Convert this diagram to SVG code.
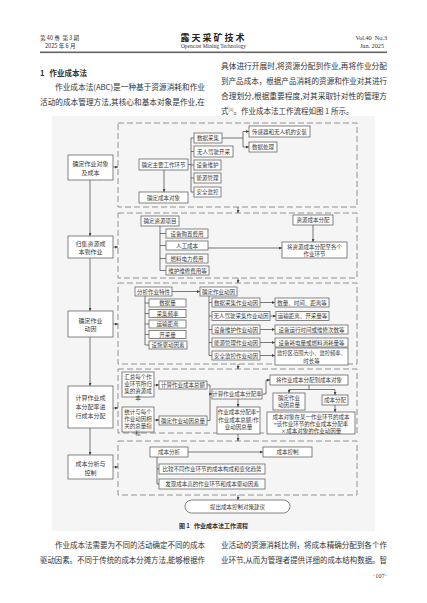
<svg xmlns="http://www.w3.org/2000/svg" width="427" height="603" viewBox="0 0 427 603">
<style>
text{font-family:"Noto Sans CJK SC","Liberation Serif",serif;fill:#333}
.h{font-size:5.6px}
.p{font-size:7.5px}
.f{font-size:5.5px;text-anchor:middle;fill:#3a3a3a}
.g{font-size:6px;text-anchor:middle;fill:#3a3a3a}
.b{fill:#fff;stroke:#666;stroke-width:0.8}
.d{fill:none;stroke:#888;stroke-width:0.9;stroke-dasharray:6 3}
.c path{fill:none;stroke:#444;stroke-width:0.7}
.c .a{marker-end:url(#ar)}
</style>
<defs>
<marker id="ar" viewBox="0 0 6 6" refX="6" refY="3" markerWidth="3" markerHeight="3" markerUnits="userSpaceOnUse" orient="auto">
<path d="M0,0 L6,3 L0,6 z" fill="#444"/>
</marker>
</defs>
<rect width="427" height="603" fill="#fff"/>
<g id="header">
<text x="40" y="39.5" class="h">第 40 卷 &#160;第 3 期</text>
<text x="45" y="47.5" class="h">2025 年 6 月</text>
<text x="213.5" y="40.5" style="font-size:9px;font-weight:bold;text-anchor:middle;letter-spacing:2px;fill:#222">露天采矿技术</text>
<text x="213.5" y="48" style="font-family:'Liberation Serif',serif;font-size:5.5px;text-anchor:middle">Opencast Mining Technology</text>
<text x="387" y="40" style="font-family:'Liberation Serif',serif;font-size:6.2px;text-anchor:end">Vol.40 &#160;No.3</text>
<text x="384" y="47.5" style="font-family:'Liberation Serif',serif;font-size:6.2px;text-anchor:end">Jun. 2025</text>
<rect x="40" y="51.5" width="347" height="1.6" fill="#666"/>
</g>
<g id="body-top">
<text x="40" y="76" class="p" style="font-weight:bold">1 &#160;&#160;作业成本法</text>
<text x="55" y="90" class="p" textLength="150" lengthAdjust="spacingAndGlyphs">作业成本法(ABC)是一种基于资源消耗和作业</text>
<text x="40" y="104.5" class="p" textLength="165" lengthAdjust="spacingAndGlyphs">活动的成本管理方法,其核心和基本对象是作业,在</text>
<text x="221" y="69" class="p" textLength="166" lengthAdjust="spacingAndGlyphs">具体进行开展时,将资源分配到作业,再将作业分配</text>
<text x="221" y="84" class="p" textLength="166" lengthAdjust="spacingAndGlyphs">到产品成本，根据产品消耗的资源和作业对其进行</text>
<text x="221" y="99" class="p" textLength="166" lengthAdjust="spacingAndGlyphs">合理划分,根据重要程度,对其采取针对性的管理方</text>
<text x="221" y="113.5" class="p">式<tspan style="font-size:4px" dy="-3">[3]</tspan><tspan dy="3">。作业成本法工作流程如图 1 所示。</tspan></text>
</g>
<rect id="figure-bg" x="52" y="116" width="323" height="415" fill="#f5f5f5"/>
<g id="frames">
<rect class="d" x="118" y="123" width="239" height="84"/>
<rect class="d" x="118" y="213" width="239" height="65"/>
<rect class="d" x="118" y="283" width="239" height="81"/>
<rect class="d" x="118" y="369" width="239" height="64"/>
<rect class="d" x="118" y="441" width="239" height="54"/>
</g>
<g id="connectors" class="c">
<path class="a" d="M90,180 V236"/>
<path class="a" d="M90,258 V311"/>
<path class="a" d="M90,337 V386"/>
<path class="a" d="M90,428 V455"/>
<path class="a" d="M113,167 H118"/>
<path class="a" d="M113,247 H118"/>
<path class="a" d="M113,324 H118"/>
<path class="a" d="M113,408 H118"/>
<path class="a" d="M113,467 H118"/>
<path class="a" d="M238,207 V213"/>
<path class="a" d="M238,278 V283"/>
<path class="a" d="M238,364 V369"/>
<path class="a" d="M238,433 V441"/>
<path class="a" d="M238,495 V500"/>
<path d="M188,164.5 H191 M191,138 V192 M191,138 H194 M191,151.5 H194 M191,165 H194 M191,178 H194 M191,192 H194"/>
<path d="M222,138 H243 M243,131.5 V147"/>
<path class="a" d="M243,131.5 H249"/>
<path class="a" d="M243,147 H249"/>
<path class="a" d="M164,170 V192"/>
<path d="M160,226 V270.5 M160,233.5 H166 M160,245.5 H166 M160,258.5 H166 M160,270.5 H166"/>
<path class="a" d="M208,248 H282"/>
<path class="a" d="M313,225 V242"/>
<path class="a" d="M172,291.5 H200"/>
<path d="M145,296 V345 M145,303 H149 M145,313.5 H149 M145,324 H149 M145,334.5 H149 M145,345 H149"/>
<path d="M209,296 V355.5 M209,302.5 H212 M209,316 H212 M209,329.5 H212 M209,342.5 H212 M209,355.5 H212"/>
<path class="a" d="M260,302.5 H275"/>
<path class="a" d="M270,316 H276"/>
<path class="a" d="M260,329.5 H275"/>
<path class="a" d="M260,342.5 H275"/>
<path class="a" d="M260,355.5 H275"/>
<path class="a" d="M154,385 H159"/>
<path class="a" d="M154,420 H159"/>
<path d="M207,385 H210 M207,420.5 H210 M210,385 V420.5"/>
<path class="a" d="M210,394 H212"/>
<path class="a" d="M238,399 V407"/>
<path d="M262,394 H266 V380"/>
<path class="a" d="M266,380 H270"/>
<path d="M309,385 V389.5 M289,389.5 H335"/>
<path class="a" d="M289,389.5 V393"/>
<path class="a" d="M335,389.5 V395"/>
<path class="a" d="M335,405 V412"/>
<path class="a" d="M188,452 H263"/>
<path d="M157,457 V484 M157,469 H159 M157,484 H159"/>
</g>
<g id="left-steps">
<g id="s1"><rect class="b" x="68" y="155" width="45" height="25"/><text class="g" x="90.5" y="166">确定作业对象</text><text class="g" x="90.5" y="174.5">及成本</text></g>
<g id="s2"><rect class="b" x="68" y="236" width="45" height="22"/><text class="g" x="90.5" y="245.5">归集资源成</text><text class="g" x="90.5" y="253.5">本到作业</text></g>
<g id="s3"><rect class="b" x="68" y="311" width="45" height="26"/><text class="g" x="90.5" y="322.5">确定作业</text><text class="g" x="90.5" y="331">动因</text></g>
<g id="s4"><rect class="b" x="68" y="386" width="45" height="42"/><text class="g" x="90.5" y="400">计算作业成</text><text class="g" x="90.5" y="409">本分配率进</text><text class="g" x="90.5" y="418">行成本分配</text></g>
<g id="s5"><rect class="b" x="68" y="455" width="45" height="24"/><text class="g" x="90.5" y="466">成本分析与</text><text class="g" x="90.5" y="474.5">控制</text></g>
</g>
<g id="stage1">
<g id="n-sensor"><rect class="b" x="249" y="126" width="61" height="11"/><text class="f" x="279.5" y="133.5">传感器和无人机的安装</text></g>
<g id="n-collect"><rect class="b" x="194" y="133" width="28" height="10"/><text class="f" x="208" y="140">数据采集</text></g>
<g id="n-process"><rect class="b" x="249" y="142" width="28" height="10"/><text class="f" x="263" y="149">数据处理</text></g>
<g id="n-auto"><rect class="b" x="194" y="146" width="39" height="11"/><text class="f" x="213.5" y="153.5">无人驾驶开采</text></g>
<g id="n-main"><rect class="b" x="139" y="159" width="49" height="11"/><text class="f" x="163.5" y="166.5">确定主要工作环节</text></g>
<g id="n-maint"><rect class="b" x="194" y="160" width="27" height="10"/><text class="f" x="207.5" y="167">设备维护</text></g>
<g id="n-energy"><rect class="b" x="194" y="173" width="27" height="10"/><text class="f" x="207.5" y="180">能源管理</text></g>
<g id="n-safety"><rect class="b" x="194" y="187" width="27" height="10"/><text class="f" x="207.5" y="194">安全监控</text></g>
<g id="n-object"><rect class="b" x="139" y="192" width="49" height="11"/><text class="f" x="163.5" y="199.5">确定成本对象</text></g>
</g>
<g id="stage2">
<g id="n-res"><rect class="b" x="141" y="216" width="38" height="10"/><text class="f" x="160" y="223">确定资源项目</text></g>
<g id="n-r1"><rect class="b" x="166" y="229" width="42" height="9"/><text class="f" x="187" y="235.5">设备购置费用</text></g>
<g id="n-r2"><rect class="b" x="166" y="241" width="42" height="9"/><text class="f" x="187" y="247.5">人工成本</text></g>
<g id="n-r3"><rect class="b" x="166" y="254" width="42" height="9"/><text class="f" x="187" y="260.5">燃料电力费用</text></g>
<g id="n-r4"><rect class="b" x="166" y="266" width="43" height="9"/><text class="f" x="187.5" y="272.5">维护维修费用等</text></g>
<g id="n-alloc"><rect class="b" x="293" y="215" width="40" height="10"/><text class="f" x="313" y="222">资源成本分配</text></g>
<g id="n-alloc2"><rect class="b" x="282" y="242" width="65" height="16"/><text class="f" x="314.5" y="248.5">将资源成本分配至各个</text><text class="f" x="314.5" y="255.5">作业环节</text></g>
</g>
<g id="stage3">
<g id="n-feat"><rect class="b" x="135" y="287" width="37" height="9"/><text class="f" x="153.5" y="293.5">分析作业特性</text></g>
<g id="n-drv"><rect class="b" x="200" y="287" width="37" height="9"/><text class="f" x="218.5" y="293.5">确定作业动因</text></g>
<g id="n-f1"><rect class="b" x="149" y="299" width="37" height="8"/><text class="f" x="167.5" y="305">数据量</text></g>
<g id="n-f2"><rect class="b" x="149" y="309.5" width="37" height="8"/><text class="f" x="167.5" y="315.5">采集频率</text></g>
<g id="n-f3"><rect class="b" x="149" y="320" width="37" height="8"/><text class="f" x="167.5" y="326">运输距离</text></g>
<g id="n-f4"><rect class="b" x="149" y="330.5" width="37" height="8"/><text class="f" x="167.5" y="336.5">开采量</text></g>
<g id="n-f5"><rect class="b" x="149" y="341" width="38" height="8"/><text class="f" x="168" y="347">设施驱动因素</text></g>
<g id="n-d1"><rect class="b" x="212" y="298" width="48" height="9"/><text class="f" x="236" y="304.5">数据采集作业动因</text></g>
<g id="n-d2"><rect class="b" x="212" y="311.5" width="58" height="9"/><text class="f" x="241" y="318">无人驾驶采集作业动因</text></g>
<g id="n-d3"><rect class="b" x="212" y="325" width="48" height="9"/><text class="f" x="236" y="331.5">设备维护作业动因</text></g>
<g id="n-d4"><rect class="b" x="212" y="338" width="48" height="9"/><text class="f" x="236" y="344.5">能源管理作业动因</text></g>
<g id="n-d5"><rect class="b" x="212" y="351" width="48" height="9"/><text class="f" x="236" y="357.5">安全监控作业动因</text></g>
<g id="n-o1"><rect class="b" x="275" y="298" width="54" height="9"/><text class="f" x="302" y="304.5">数量、时间、距离等</text></g>
<g id="n-o2"><rect class="b" x="276" y="311.5" width="53" height="9"/><text class="f" x="302.5" y="318">运输距离、开采量等</text></g>
<g id="n-o3"><rect class="b" x="275" y="325" width="73" height="9"/><text class="f" x="311.5" y="331.5">设备运行时间或维修次数等</text></g>
<g id="n-o4"><rect class="b" x="275" y="338" width="73" height="9"/><text class="f" x="311.5" y="344.5">设备耗电量或燃料消耗量等</text></g>
<g id="n-o5"><rect class="b" x="275" y="348" width="73" height="17"/><text class="f" x="311.5" y="355" textLength="69" lengthAdjust="spacingAndGlyphs">监控区范围大小、监控频率、</text><text class="f" x="311.5" y="362.5">时长等</text></g>
</g>
<g id="stage4">
<g id="n-sum"><rect class="b" x="122" y="372" width="32" height="25"/><text class="f" x="138" y="378.5">汇总每个作</text><text class="f" x="138" y="385.5">业环节所归</text><text class="f" x="138" y="392.5">集的资源成</text><text class="f" x="138" y="399.5">本</text></g>
<g id="n-stat"><rect class="b" x="122" y="407" width="32" height="25"/><text class="f" x="138" y="413.5">统计与每个</text><text class="f" x="138" y="420.5">作业动因相</text><text class="f" x="138" y="427.5">关的总量指</text><text class="f" x="138" y="434.5">标</text></g>
<g id="n-total"><rect class="b" x="159" y="381" width="48" height="8"/><text class="f" x="183" y="387">计算作业成本总额</text></g>
<g id="n-dtot"><rect class="b" x="159" y="416" width="48" height="9"/><text class="f" x="183" y="422.5">确定作业动因总量</text></g>
<g id="n-rate"><rect class="b" x="212" y="389" width="50" height="10"/><text class="f" x="237" y="396">计算作业成本分配率</text></g>
<g id="n-formula"><rect class="b" x="217" y="407" width="43" height="27"/><text class="f" x="238.5" y="414">作业成本分配率=</text><text class="f" x="238.5" y="421.5">作业成本总额/作</text><text class="f" x="238.5" y="429">业动因总量</text></g>
<g id="n-toobj"><rect class="b" x="270" y="375" width="78" height="10"/><text class="f" x="309" y="382">将作业成本分配到成本对象</text></g>
<g id="n-dtot2"><rect class="b" x="273" y="393" width="32" height="17"/><text class="f" x="289" y="400">确定作业</text><text class="f" x="289" y="407">动因总量</text></g>
<g id="n-calloc"><rect class="b" x="322" y="395" width="26" height="10"/><text class="f" x="335" y="402">成本分配</text></g>
<g id="n-objcost"><rect class="b" x="267" y="412" width="88" height="22"/><text class="f" x="311" y="418.5">成本对象在某一作业环节的成本</text><text class="f" x="311" y="425.5">=该作业环节的作业成本分配率</text><text class="f" x="311" y="432.5">×成本对象的作业动因量</text></g>
</g>
<g id="stage5">
<g id="n-ana"><rect class="b" x="150" y="447" width="38" height="10"/><text class="f" x="169" y="454">成本分析</text></g>
<g id="n-ctl"><rect class="b" x="263" y="447" width="49" height="10"/><text class="f" x="287.5" y="454">成本控制</text></g>
<g id="n-cmp"><rect class="b" x="159" y="464" width="106" height="10"/><text class="f" x="212" y="471">比较不同作业环节的成本构成和变化趋势</text></g>
<g id="n-find"><rect class="b" x="159" y="479" width="106" height="10"/><text class="f" x="212" y="486">发现成本高的作业环节和成本驱动因素</text></g>
</g>
<g id="n-end"><rect class="b" x="185" y="500" width="105" height="13" rx="6.5"/><text class="f" x="237.5" y="508.5">提出成本控制对策建议</text></g>
<text x="213.5" y="528" style="font-size:6px;font-weight:bold;text-anchor:middle">图 1 &#160;&#160;作业成本法工作流程</text>
<g id="body-bottom">
<text x="55" y="548" class="p" textLength="150" lengthAdjust="spacingAndGlyphs">作业成本法需要为不同的活动确定不同的成本</text>
<text x="40" y="563" class="p" textLength="165" lengthAdjust="spacingAndGlyphs">驱动因素。不同于传统的成本分摊方法,能够根据作</text>
<text x="221" y="548" class="p" textLength="166" lengthAdjust="spacingAndGlyphs">业活动的资源消耗比例，将成本精确分配到各个作</text>
<text x="221" y="563" class="p" textLength="166" lengthAdjust="spacingAndGlyphs">业环节,从而为管理者提供详细的成本结构数据。智</text>
<text x="387" y="578" style="font-family:'Liberation Serif',serif;font-size:6.5px;text-anchor:end">·107·</text>
</g>
</svg>
